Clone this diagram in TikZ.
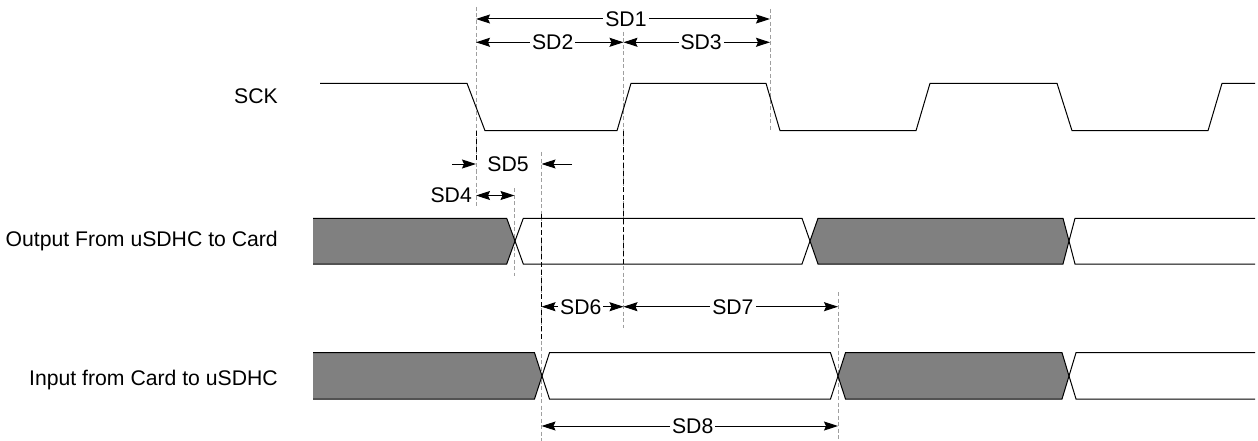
\documentclass[tikz,border=0pt]{standalone}
\usepackage{fontspec}
\setmainfont{Liberation Sans}
\usetikzlibrary{arrows.meta}
\usetikzlibrary{positioning}

\begin{document}
\begin{tikzpicture}[x=1pt, y=-1pt,
				wave/.style={draw, line width=1pt, line join=miter},
				guide/.style={draw=gray!75, line width=0.8pt, dash pattern=on 4pt off 2.5pt},
				guidedark/.style={draw=black, line width=0.9pt, dash pattern=on 5pt off 3pt},
				dim/.style={draw, line width=1pt, {Stealth[length=14pt,width=9pt,inset=2pt]}-{Stealth[length=14pt,width=9pt,inset=2pt]}},
				onedim/.style={draw, line width=1pt, -{Stealth[length=14pt,width=9pt,inset=2pt]}},
				sdlabel/.style={fill=white, inner sep=2pt, font=\fontsize{21.2}{25}\selectfont},
				siglabel/.style={anchor=base east, inner sep=0pt, font=\fontsize{21.2}{25}\selectfont}]
				\useasboundingbox (0,0) rectangle (1258,441);
				
				% time marks
				\coordinate (tA) at (476,0);
				\coordinate (tB) at (514.5,0);
				\coordinate (tC) at (541.5,0);
				\coordinate (tD) at (623.5,0);
				\coordinate (tE) at (770,0);
				\coordinate (tF) at (838,0);
				
				% guide lines
				\draw[guide] (476,7) -- (476,208);
				\draw[guidedark] (476,131) -- (476,160);
				\draw[guide] (514.5,188) -- (514.5,276);
				\draw[guide] (541.5,152) -- (541.5,441);
				\draw[guidedark] (541.5,214) -- (541.5,340);
				\draw[guide] (623.5,32) -- (623.5,328);
				\draw[guidedark] (623.5,131) -- (623.5,265);
				\draw[guide] (770,9) -- (770,131);
				\draw[guide] (838,292) -- (838,441);
				
				% signal names
				\node[siglabel](sck) at (278,103.3) {SCK};
				\node[siglabel](dout) at (278,246.7) {Output From uSDHC to Card};
				\node[siglabel](din) at (278,385) {Input from Card to uSDHC};
				
				% SCK
				\draw[wave] (320,83.3) -- (467,83.3) -- (485,130.7) -- (617,130.7) -- (631,83.3) -- (766,83.3) -- (780,130.7) -- (916,130.7) -- (930,83.3) -- (1057,83.3) -- (1072,130.7) -- (1208,130.7) -- (1222,83.3) -- (1255,83.3);
				
				% output bus
				\fill[gray] (313,218.3) -- (506.7,218.3) -- (515,241) -- (506.7,264) -- (313,264) -- cycle;
				\draw[wave] (313,218.3) -- (506.7,218.3) -- (515,241) -- (506.7,264) -- (313,264);
				\draw[wave] (515,241) -- (523.3,218.3) -- (802,218.3) -- (810,241) -- (802,264) -- (523.3,264) -- cycle;
				\filldraw[wave, fill=gray] (810,241) -- (818,218.3) -- (1063,218.3) -- (1069,241) -- (1063,264) -- (818,264) -- cycle;
				\draw[wave] (1255,218.3) -- (1075,218.3) -- (1069,241) -- (1075,264) -- (1255,264);
				
				% input bus
				\fill[gray] (313,352.7) -- (534.5,352.7) -- (542,376) -- (534.5,399) -- (313,399) -- cycle;
				\draw[wave] (313,352.7) -- (534.5,352.7) -- (542,376) -- (534.5,399) -- (313,399);
				\draw[wave] (542,376) -- (549.5,352.7) -- (830.5,352.7) -- (838,376) -- (830.5,399) -- (549.5,399) -- cycle;
				\filldraw[wave, fill=gray] (838,376) -- (845.5,352.7) -- (1062,352.7) -- (1069,376) -- (1062,399) -- (845.5,399) -- cycle;
				\draw[wave] (1255,352.7) -- (1076,352.7) -- (1069,376) -- (1076,399) -- (1255,399);
				
				% rows of the timing arrows
				\coordinate (rOne) at (0,19);
				\coordinate (rTwo) at (0,42.3);
				\coordinate (rSix) at (0,306.7);
				\coordinate (rEight) at (0,426);
				
				\draw[dim] (tA |- rOne) -- node[sdlabel, pos=0.51](sd1) {SD1} (tE |- rOne);
				\draw[dim] (tA |- rTwo) -- node[sdlabel, pos=0.52](sd2) {SD2} (tD |- rTwo);
				\draw[dim] (tD |- rTwo) -- node[sdlabel, pos=0.53](sd3) {SD3} (tE |- rTwo);
				
				\node[sdlabel, fill=none](sd5) at (508,164) {SD5};
				\coordinate (sd5l) at (452,164);
				\coordinate (sd5r) at (572,164);
				\draw[onedim] (sd5l) -- (tA |- sd5);
				\draw[onedim] (sd5r) -- (tC |- sd5);
				
				\coordinate (sd4a) at (476,195.5);
				\node[sdlabel, fill=none, left=2pt of sd4a](sd4) {SD4};
				\draw[dim] (sd4a) -- (tB |- sd4a);
				
				\draw[dim] (tC |- rSix) -- node[sdlabel, pos=0.48](sd6) {SD6} (tD |- rSix);
				\draw[dim] (tD |- rSix) -- node[sdlabel, pos=0.51](sd7) {SD7} (tF |- rSix);
				\draw[dim] (tC |- rEight) -- node[sdlabel, pos=0.51](sd8) {SD8} (tF |- rEight);
				
			\end{tikzpicture}
\end{document}
